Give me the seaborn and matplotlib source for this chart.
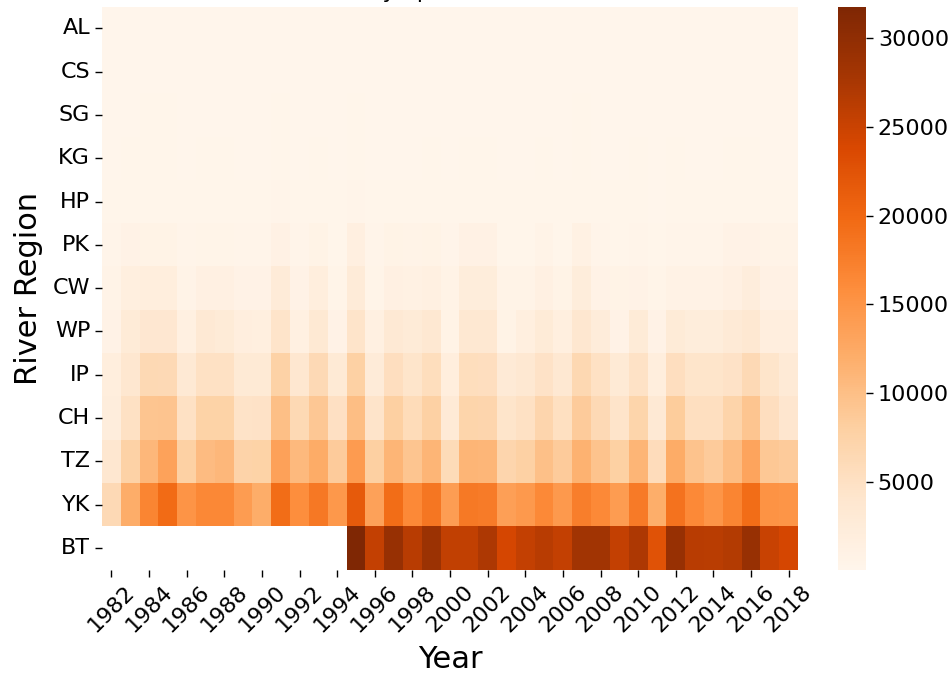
import numpy as np
import pandas as pd
import matplotlib
matplotlib.use("Agg")
import matplotlib.pyplot as plt
import seaborn as sns

nan = np.nan

years = list(range(1982, 2019))
regions = ["AL", "CS", "SG", "KG", "HP", "PK", "CW", "WP", "IP", "CH", "TZ", "YK", "BT"]

al = [90, 85, 95, 100, 80, 90, 85, 80, 75, 95, 90, 85, 100, 95, 90, 100, 85, 80, 95,
      100, 90, 85, 80, 90, 85, 80, 95, 90, 70, 80, 90, 85, 80, 90, 95, 85, 80]
cs = [120, 140, 150, 160, 110, 130, 140, 120, 110, 150, 120, 140, 110, 160, 110, 130, 120, 130, 110,
      150, 140, 110, 120, 130, 110, 150, 130, 110, 130, 100, 130, 120, 120, 140, 150, 120, 120]
sg = [150, 180, 200, 210, 150, 170, 180, 160, 150, 200, 160, 180, 140, 210, 150, 170, 160, 170, 140,
      190, 190, 150, 150, 170, 150, 200, 170, 150, 170, 130, 170, 160, 160, 180, 190, 160, 150]
kg = [170, 210, 230, 240, 170, 200, 200, 180, 170, 230, 180, 210, 160, 240, 170, 190, 180, 200, 160,
      220, 220, 170, 170, 200, 170, 230, 190, 170, 200, 150, 200, 180, 180, 210, 230, 180, 170]
hp = [220, 280, 300, 310, 220, 260, 260, 230, 220, 320, 230, 280, 200, 340, 220, 250, 240, 260, 210,
      300, 300, 220, 220, 260, 220, 300, 250, 220, 260, 190, 260, 240, 240, 280, 300, 240, 230]
pk = [400, 900, 700, 700, 400, 500, 500, 400, 400, 1100, 400, 800, 300, 1600, 400, 800, 600, 700, 400,
      1100, 1100, 300, 300, 600, 300, 1200, 400, 300, 400, 300, 400, 400, 400, 900, 900, 600, 600]
cw = [600, 1800, 2000, 2000, 600, 1400, 1400, 900, 900, 2700, 900, 2000, 500, 2700, 500, 1400, 1300, 1500, 700,
      2400, 2400, 600, 600, 1400, 700, 2300, 900, 700, 900, 500, 1000, 1000, 1000, 1400, 2100, 1100, 1100]
wp = [900, 2800, 3700, 3700, 1500, 3200, 2800, 1900, 1800, 4500, 1500, 3400, 900, 4500, 1500, 3200, 2800, 3500, 800,
      3500, 3500, 800, 1700, 2900, 1700, 3800, 2500, 900, 2900, 900, 2900, 2300, 2300, 3000, 3600, 1900, 1900]
ip = [2000, 3900, 6500, 6300, 3200, 5000, 5000, 3100, 3100, 7700, 3900, 6300, 3100, 7800, 2700, 5400, 4300, 5600, 2000,
      5600, 5500, 3000, 3600, 4700, 3500, 6600, 5000, 3100, 4800, 2000, 5400, 4400, 4400, 4700, 6300, 4400, 3000]
ch = [2200, 4900, 9300, 9400, 4900, 7600, 7500, 4600, 4700, 10100, 6400, 9100, 5100, 10200, 4500, 8000, 5900, 7800, 3000,
      7200, 7100, 4300, 4900, 7100, 5200, 8500, 6300, 4500, 7200, 3200, 8400, 5300, 5300, 7300, 9300, 5500, 4000]
tz = [3800, 7700, 10900, 13400, 7850, 10450, 10900, 7400, 7500, 13500, 10700, 12300, 8570, 14250, 8000, 11100, 9260, 11100, 6100,
      11150, 11000, 7100, 7850, 9900, 8570, 11500, 9600, 7900, 11100, 5800, 12300, 9600, 8500, 10300, 13100, 8900, 8600]
yk = [6300, 12200, 16800, 19700, 15100, 16500, 16500, 14100, 12100, 19500, 15900, 18200, 14600, 21700, 13500, 19400, 16300, 18400, 14000,
      18100, 17900, 13800, 14500, 16300, 14500, 17650, 16300, 14100, 18000, 12000, 18800, 16300, 15000, 16900, 19500, 15200, 15000]
bt = [nan, nan, nan, nan, nan, nan, nan, nan, nan, nan, nan, nan, nan,
      31770, 25500, 29250, 26400, 28800, 25600, 25600, 27270, 24150, 25500, 26400, 25500, 28300,
      28300, 25500, 27270, 22650, 29250, 26400, 26200, 26700, 29250, 25100, 24200]

table = pd.DataFrame([al, cs, sg, kg, hp, pk, cw, wp, ip, ch, tz, yk, bt],
                     index=regions, columns=years)

fig = plt.figure(figsize=(9.53, 6.76), dpi=100)
ax = fig.add_axes([0.107, 0.1574, 0.7304, 0.8327])
cax = fig.add_axes([0.8793, 0.1574, 0.0294, 0.8327])

sns.heatmap(table, cmap="Oranges", ax=ax, cbar_ax=cax,
            xticklabels=2, yticklabels=True)

ax.set_title("Catch by Species and River", fontsize=16)
ax.set_xlabel("Year", fontsize=22, labelpad=7)
ax.set_ylabel("River Region", fontsize=22, labelpad=7)
ax.tick_params(axis="both", labelsize=16, length=5, width=1)
plt.setp(ax.get_xticklabels(), rotation=45)
plt.setp(ax.get_yticklabels(), rotation=0)
cax.tick_params(labelsize=16, length=5, width=1)

fig.savefig("out.png", dpi=100)
